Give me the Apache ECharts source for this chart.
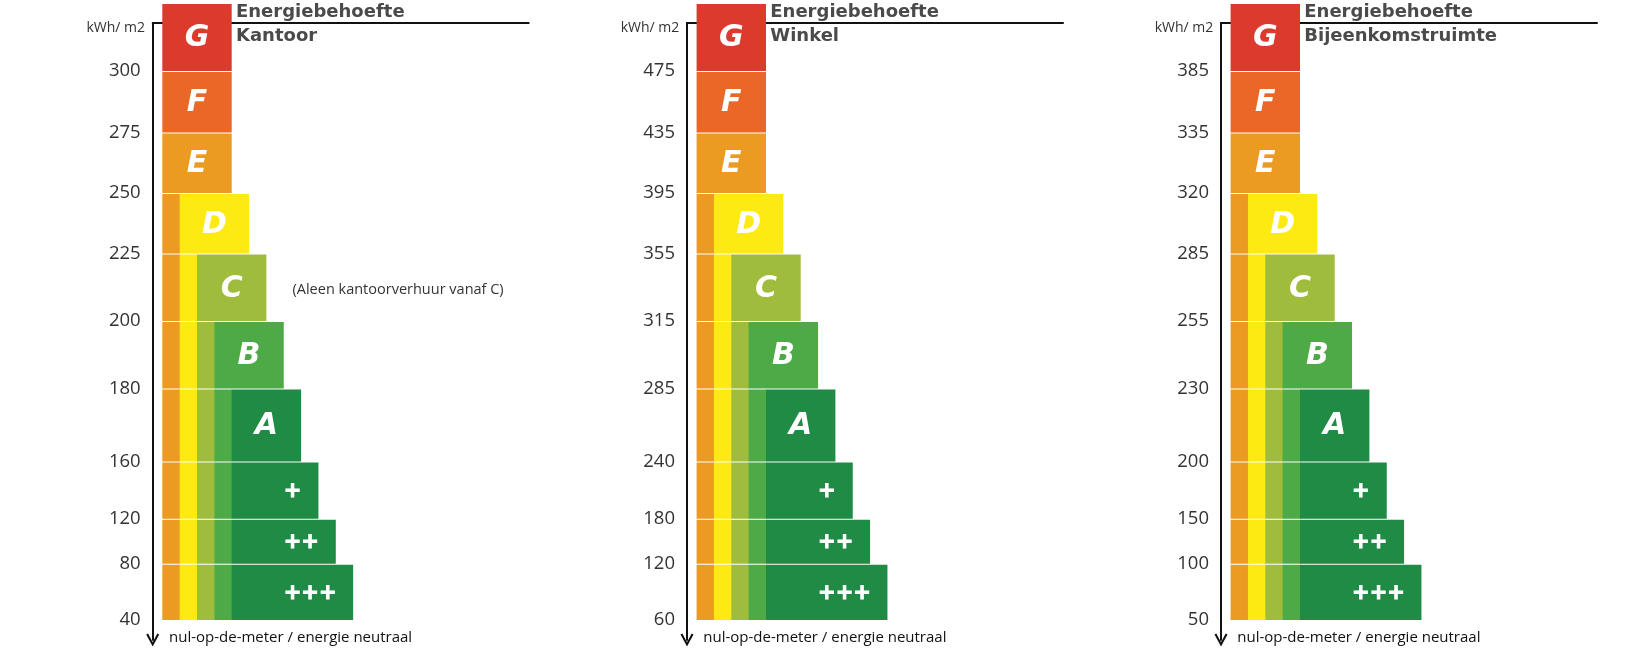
<!DOCTYPE html>
<html>
<head>
<meta charset="utf-8">
<script src="https://cdn.jsdelivr.net/npm/echarts@6/dist/echarts.min.js"></script>
<style>
  html, body { margin: 0; padding: 0; background: #fff; }
  #chart { width: 1640px; height: 664px; }
</style>
</head>
<body>
<div id="chart"></div>
<script>
// labels van de energieklassen, van boven (slecht) naar onder (best)
const klassen = ['G', 'F', 'E', 'D', 'C', 'B', 'A', '+', '++', '+++'];

// grenswaarden kWh/m2 per gebouwtype (onderrand van elke klasse)
const kantoorGrenzen = ['300', '275', '250', '225', '200', '180', '160', '120', '80', '40'];
const winkelGrenzen = ['475', '435', '395', '355', '315', '285', '240', '180', '120', '60'];
const bijeenkomstGrenzen = ['385', '335', '320', '285', '255', '230', '200', '150', '100', '50'];

const gebouwTypen = ['Kantoor', 'Winkel', 'Bijeenkomstruimte'];
const opmerkingen = ['(Aleen kantoorverhuur vanaf C)', '', ''];

// opbouw van het label: begin/eind kolom per klasse en rijranden (schaal-eenheden)
const kolomStart = [0, 0, 0, 1, 2, 3, 4, 4, 4, 4];
const kolomEind = [4, 4, 4, 5, 6, 7, 8, 9, 10, 11];
const rijRanden = [0, 67, 128.5, 189, 249.5, 317, 384.5, 457.5, 514.8, 559.7, 616];

const kleuren = ['#DD3A2E', '#EB6727', '#EB9A22', '#FCEA12', '#A0BC3C', '#4DAA46',
                 '#1F8B45', '#1F8B45', '#1F8B45', '#1F8B45'];

const alleGrenzen = [kantoorGrenzen, winkelGrenzen, bijeenkomstGrenzen];
const panelX = [0, 534.3, 1068.3];

const FONT = 'Open Sans';
const KOP = 'DejaVu Sans';
const chart = echarts.init(document.getElementById('chart'));

const grid = [], xAxis = [], yAxis = [], series = [], title = [];

const pijl = 'path://M6,0 L12,11 L10.3,12 L6,4 L1.7,12 L0,11 Z';

panelX.forEach((ox, p) => {
  const grenzen = alleGrenzen[p];

  // grid voor de assen (lijn met pijl + bovenlijn)
  grid.push({ left: ox + 152.7, top: 23, width: 376, height: 617 });
  xAxis.push({
    gridIndex: 2 * p, type: 'value', min: 0, max: 1, position: 'top',
    axisLine: { show: true, onZero: false, lineStyle: { color: '#111', width: 2 } },
    axisTick: { show: false }, axisLabel: { show: false }, splitLine: { show: false }
  });
  yAxis.push({
    gridIndex: 2 * p, type: 'value', min: 0, max: 1, inverse: true,
    axisLine: {
      show: true, onZero: false, lineStyle: { color: '#111', width: 2 },
      symbol: [pijl, 'none'], symbolSize: [13, 13]
    },
    axisTick: { show: false }, axisLabel: { show: false }, splitLine: { show: false }
  });

  // grid voor de klassen
  grid.push({ left: ox + 162.3, top: 4, width: 190.85, height: 616 });
  xAxis.push({
    gridIndex: 2 * p + 1, type: 'value', min: 0, max: 11, show: false
  });
  yAxis.push({
    gridIndex: 2 * p + 1, type: 'value', min: 0, max: 616, inverse: true,
    axisLine: { show: false }, axisTick: { show: false }, splitLine: { show: false },
    axisLabel: {
      customValues: rijRanden.slice(1),
      margin: 21.6,
      color: '#333', fontFamily: FONT, fontSize: 18.5,
      formatter: v => grenzen[rijRanden.indexOf(v) - 1]
    }
  });

  series.push({
    type: 'custom',
    xAxisIndex: 2 * p + 1, yAxisIndex: 2 * p + 1,
    z: 5,
    data: klassen.map((k, i) => [kolomStart[i], kolomEind[i], rijRanden[i], rijRanden[i + 1], i]),
    encode: { x: [0, 1], y: [2, 3] },
    renderItem: (params, api) => {
      const i = api.value(4);
      const y0 = api.coord([0, api.value(2)])[1] + (i > 0 ? 1 : 0);
      const y1 = api.coord([0, api.value(3)])[1];
      const children = [];
      // smalle stroken van de hogere klassen (E, D, C, B)
      for (let j = 0; j < api.value(0); j++) {
        const xa = api.coord([j, 0])[0], xb = api.coord([j + 1, 0])[0];
        children.push({
          type: 'rect',
          shape: { x: xa, y: y0, width: xb - xa + 0.5, height: y1 - y0 },
          style: { fill: kleuren[j + 2] }
        });
      }
      const xs = api.coord([api.value(0), 0])[0], xe = api.coord([api.value(1), 0])[0];
      children.push({
        type: 'rect',
        shape: { x: xs, y: y0, width: xe - xs, height: y1 - y0 },
        style: { fill: kleuren[i] }
      });
      const plus = i >= 7;
      const tx = plus ? api.coord([7, 0])[0] : api.coord([api.value(0) + 2, 0])[0];
      children.push({
        type: 'text',
        style: {
          text: klassen[i],
          x: tx, y: (y0 + y1) / 2 + 1,
          fill: '#fff',
          font: 'italic bold ' + (plus ? 21 : 30) + 'px "' + KOP + '"',
          align: plus ? 'left' : 'center', verticalAlign: 'middle',
          stroke: plus ? '#fff' : null, lineWidth: plus ? 1 : 0
        }
      });
      return { type: 'group', children };
    }
  });

  // teksten
  const kop = { fontFamily: KOP, fontWeight: 'bold', fontSize: 18, color: '#4a4a4a', lineHeight: 24 };
  title.push({ text: 'Energiebehoefte', left: ox + 236, top: 0, textStyle: kop, padding: 0 });
  title.push({ text: gebouwTypen[p], left: ox + 236, top: 24, textStyle: kop, padding: 0 });
  title.push({
    text: 'kWh/ m2', right: 1640 - (ox + 145), top: 19,
    textStyle: { fontFamily: FONT, fontWeight: 'normal', fontSize: 14, color: '#333', lineHeight: 18 },
    padding: 0
  });
  title.push({
    text: 'nul-op-de-meter / energie neutraal', left: ox + 169, top: 629,
    textStyle: { fontFamily: FONT, fontWeight: 'normal', fontSize: 15, color: '#111', lineHeight: 18 },
    padding: 0
  });
  if (opmerkingen[p]) {
    title.push({
      text: opmerkingen[p], left: ox + 292.5, top: 281,
      textStyle: { fontFamily: FONT, fontWeight: 'normal', fontSize: 14.5, color: '#333', lineHeight: 18 },
      padding: 0
    });
  }
});

chart.setOption({
  animation: false,
  title, grid, xAxis, yAxis, series
});
</script>
</body>
</html>
